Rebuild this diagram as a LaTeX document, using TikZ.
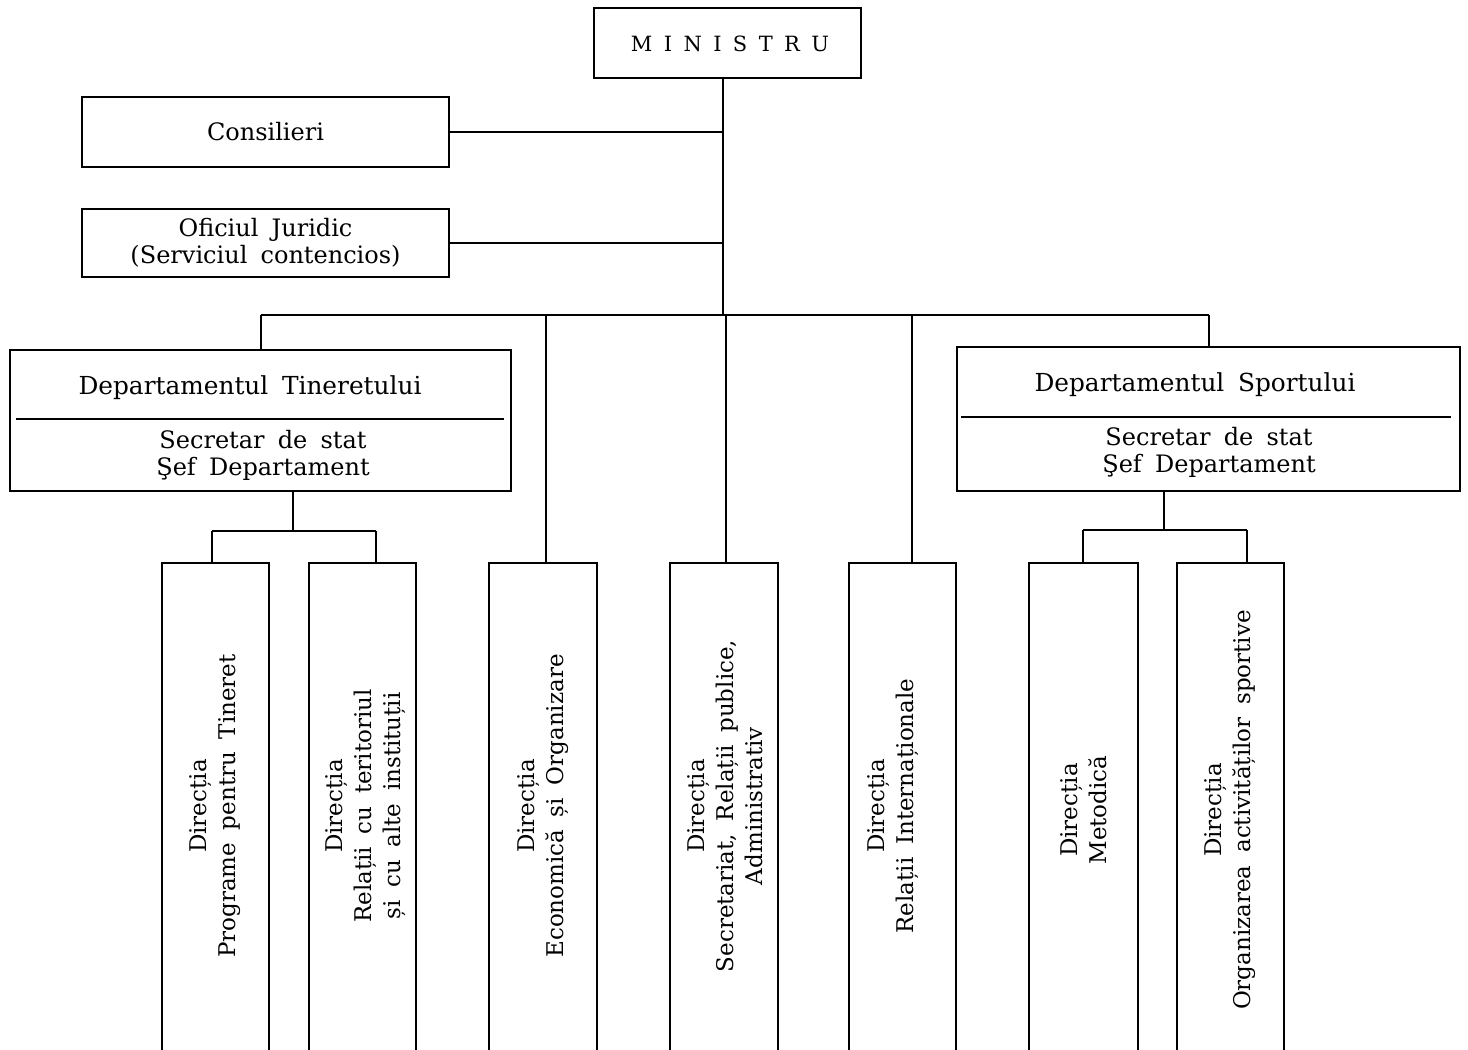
\documentclass[tikz,border=0pt]{standalone}
\usepackage{fontspec}
\setmainfont{DejaVu Serif}
\usetikzlibrary{calc}
\newcommand\widesp{\spaceskip=0.55em plus 0.1em\relax}
\begin{document}
\begin{tikzpicture}[x=0.5pt,y=-0.5pt,line width=1pt,
  box/.style={draw,inner sep=0pt,minimum width=#1},
  htext/.style={inner sep=0pt,align=center,font=\fontsize{12}{13.5}\selectfont\widesp},
  ttext/.style={inner sep=0pt,align=center,font=\fontsize{12.4}{13.5}\selectfont\widesp},
  vtext/.style={inner sep=0pt,align=center,rotate=90,font=\fontsize{11.5}{14.5}\selectfont\widesp}]
\useasboundingbox[fill=white] (0,0) rectangle (1468,1050);

% top boxes
\node[box=133.5pt,minimum height=35pt] (min) at (727.5,43) {};
\node[inner sep=0pt,font=\fontsize{10.5}{12}\selectfont] (mint) at (730,44)
  {M\hspace{5.7pt}I\hspace{5.7pt}N\hspace{5.7pt}I\hspace{5.7pt}S\hspace{5.7pt}T\hspace{5.7pt}R\hspace{5.7pt}U};
\node[box=183.5pt,minimum height=35pt,htext] (cons) at (265.5,132) {Consilieri};
\node[box=183.5pt,minimum height=34pt,htext] (ofi) at (265.5,243) {Oficiul Juridic\\(Serviciul contencios)};

% departments
\node[box=250.5pt,minimum height=70.5pt] (dt) at (260.5,420.5) {};
\node[box=251.5pt,minimum height=72pt] (ds) at (1208.5,419) {};
\draw ($(dt.north west)+(7,70)$) -- ($(dt.north east)+(-8,70)$);
\draw ($(ds.north west)+(5,71)$) -- ($(ds.north east)+(-10,71)$);
\node[ttext] (dtt) at (250,388) {Departamentul Tineretului};
\node[htext] (dts) at (263,455) {Secretar de stat\\Şef Departament};
\node[ttext] (dst) at (1195,385) {Departamentul Sportului};
\node[htext] (dss) at (1209,452.5) {Secretar de stat\\Şef Departament};

% bottom boxes
\node[box=53.5pt,minimum height=246pt] (b1) at (215.5,809) {};
\node[box=53.5pt,minimum height=246pt] (b2) at (362.5,809) {};
\node[box=54pt,minimum height=246pt] (b3) at (543,809) {};
\node[box=54pt,minimum height=246pt] (b4) at (724,809) {};
\node[box=53.5pt,minimum height=246pt] (b5) at (902.5,809) {};
\node[box=54.5pt,minimum height=246pt] (b6) at (1083.5,809) {};
\node[box=53.5pt,minimum height=246pt] (b7) at (1230.5,809) {};

\node[vtext] (t1) at (215,806) {Direcția\\Programe pentru Tineret};
\node[vtext] (t2) at (366,806) {Direcția\\Relații cu teritoriul\\și cu alte instituții};
\node[vtext] (t3) at (543,806) {Direcția\\Economică și Organizare};
\node[vtext] (t4) at (725,806) {Direcția\\Secretariat, Relații publice,\\Administrativ};
\node[vtext] (t5) at (893,806) {Direcția\\Relații Internaționale};
\node[vtext] (t6) at (1084,810) {Direcția\\Metodică};
\node[vtext] (t7) at (1230,810) {Direcția\\Organizarea activităților sportive};

% connectors
\coordinate (bus) at (723,315);
\draw ($(min.south)+(-4.5,0)$) -- ($(min.south |- bus)+(-4.5,0)$);
\draw (cons.east) -- (cons.east -| bus);
\draw (ofi.east) -- (ofi.east -| bus);
\draw (dt.north |- bus) -- (ds.north |- bus);
\draw (dt.north) -- (dt.north |- bus);
\draw (ds.north) -- (ds.north |- bus);
\draw ($(b3.north)+(3,0)$) -- ($(b3.north |- bus)+(3,0)$);
\draw ($(b4.north)+(2,0)$) -- ($(b4.north |- bus)+(2,0)$);
\draw ($(b5.north)+(9.5,0)$) -- ($(b5.north |- bus)+(9.5,0)$);

% Tineret sub-tree
\coordinate (tj) at (293,531);
\coordinate (tl) at (212,531);
\coordinate (tr) at (376,531);
\draw (dt.south -| tj) -- (tj);
\draw (tl) -- (tr);
\draw (tl) -- (b1.north -| tl);
\draw (tr) -- (b2.north -| tr);

% Sport sub-tree
\coordinate (sj) at (1164,530);
\coordinate (sl) at (1083,530);
\coordinate (sr) at (1247,530);
\draw (ds.south -| sj) -- (sj);
\draw (sl) -- (sr);
\draw (sl) -- (b6.north -| sl);
\draw (sr) -- (b7.north -| sr);
\end{tikzpicture}
\end{document}
